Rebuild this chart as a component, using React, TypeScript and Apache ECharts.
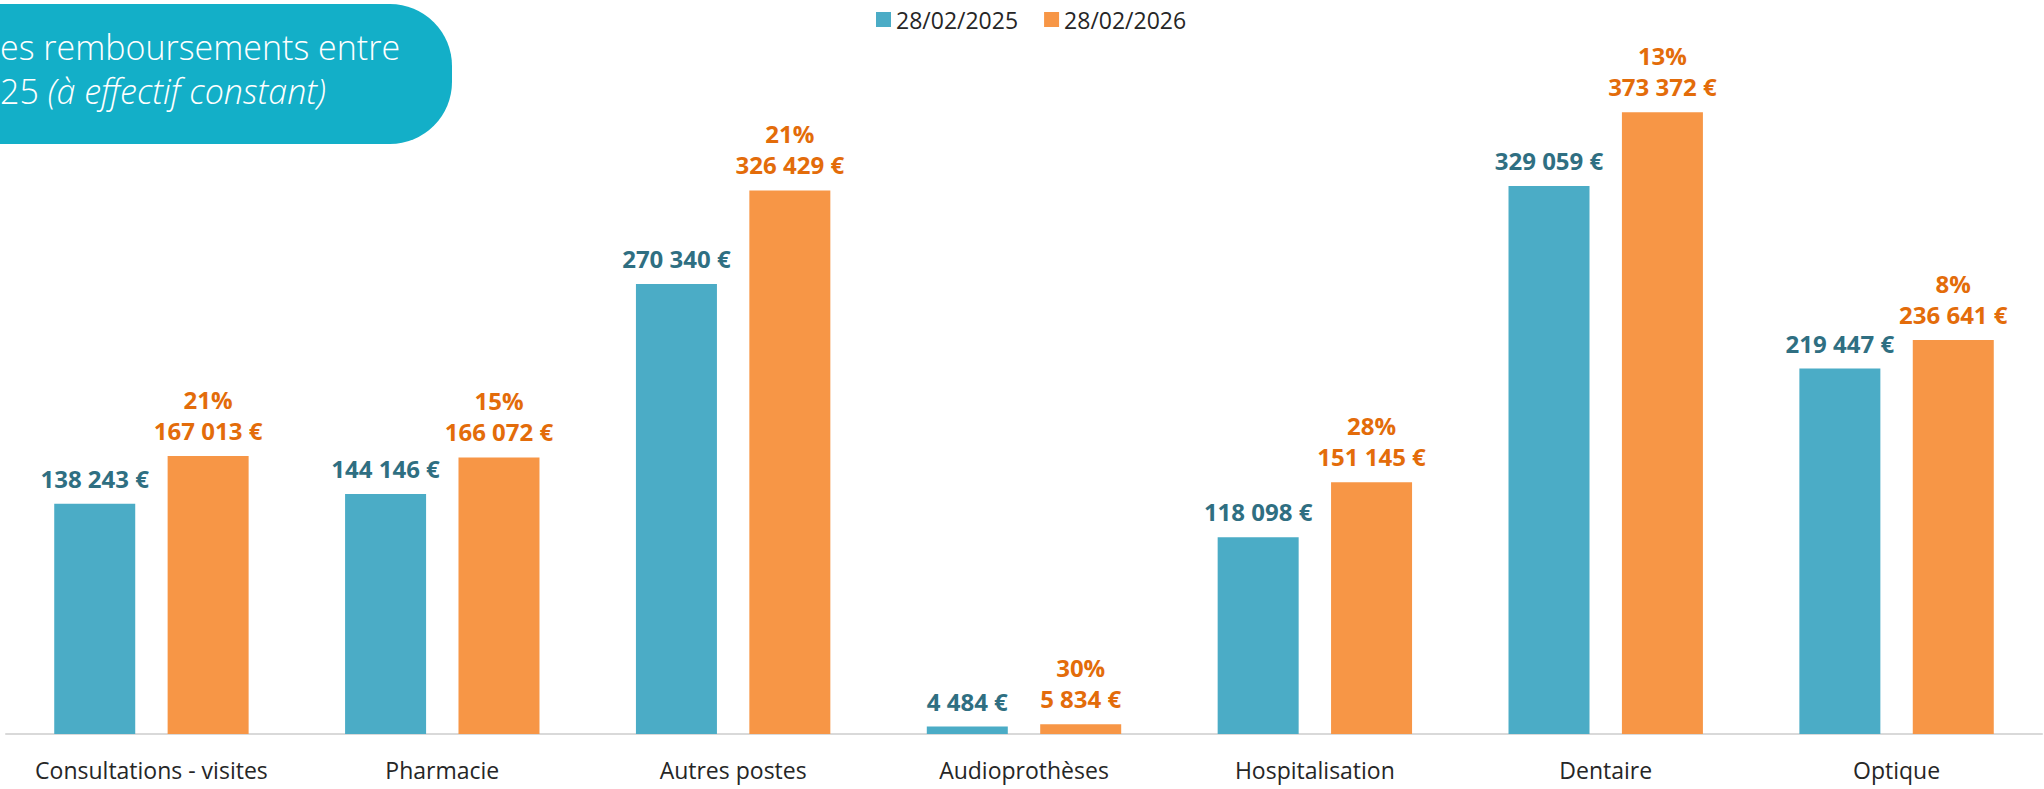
import React, { useEffect, useRef } from "react";
import * as echarts from "echarts";

const categories = [
  "Consultations - visites",
  "Pharmacie",
  "Autres postes",
  "Audioprothèses",
  "Hospitalisation",
  "Dentaire",
  "Optique",
];
const values2025 = [138243, 144146, 270340, 4484, 118098, 329059, 219447];
const values2026 = [167013, 166072, 326429, 5834, 151145, 373372, 236641];
const growth = ["21%", "15%", "21%", "30%", "28%", "13%", "8%"];
const seriesNames = ["28/02/2025", "28/02/2026"];
const titleLine1 = "es remboursements entre";
const titleLine2a = "25 ";
const titleLine2b = "(à effectif constant)";

const fmt = (n: number) =>
  String(n).replace(/\B(?=(\d{3})+(?!\d))/g, " ") + " €";

const FONT = "'Open Sans', 'Noto Sans', sans-serif";

export default function App() {
  const ref = useRef<HTMLDivElement>(null);
  useEffect(() => {
    if (!ref.current) return;
    const chart = echarts.init(ref.current, null, { renderer: "svg" });
    chart.setOption({
      animation: false,
      backgroundColor: "#ffffff",
      textStyle: { fontFamily: FONT },
      legend: {
        data: seriesNames,
        left: 871,
        top: 3,
        itemWidth: 15,
        itemHeight: 15,
        itemGap: 26,
        icon: "rect",
        textStyle: { fontSize: 23, color: "#262626", fontFamily: FONT },
      },
      grid: { left: 6, right: 2, top: 68, bottom: 55, containLabel: false },
      xAxis: {
        type: "category",
        data: categories,
        axisLine: { show: true, lineStyle: { color: "#D9D9D9", width: 2 } },
        axisTick: { show: false },
        axisLabel: {
          margin: 24,
          fontSize: 23,
          color: "#262626",
          fontFamily: FONT,
          interval: 0,
        },
      },
      yAxis: {
        type: "value",
        min: 0,
        max: 400000,
        show: false,
        splitLine: { show: false },
      },
      series: [
        {
          name: seriesNames[0],
          type: "bar",
          data: values2025,
          barWidth: 81,
          barGap: "40%",
          itemStyle: { color: "#4BACC6" },
          label: {
            show: true,
            position: "top",
            distance: 10,
            formatter: (p: any) => fmt(p.value),
            color: "#2F6F82",
            fontWeight: "bold",
            fontSize: 24,
            lineHeight: 31,
            fontFamily: FONT,
          },
        },
        {
          name: seriesNames[1],
          type: "bar",
          data: values2026,
          barWidth: 81,
          barGap: "40%",
          itemStyle: { color: "#F79646" },
          label: {
            show: true,
            position: "top",
            distance: 10,
            formatter: (p: any) => growth[p.dataIndex] + "\n" + fmt(p.value),
            color: "#E36C0A",
            fontWeight: "bold",
            fontSize: 24,
            lineHeight: 31,
            fontFamily: FONT,
          },
        },
      ],
      graphic: [
        {
          type: "rect",
          shape: { x: -30, y: 4, width: 482, height: 140, r: [0, 62, 62, 0] },
          style: { fill: "#13AFC8" },
          z: 10,
        },
        {
          type: "text",
          x: 0,
          y: 47,
          z: 11,
          style: {
            text: titleLine1,
            fill: "#ffffff",
            fontSize: 34,
            fontWeight: 300,
            fontFamily: FONT,
            verticalAlign: "middle",
            align: "left",
          },
        },
        {
          type: "text",
          x: 0,
          y: 91,
          z: 11,
          style: {
            text: "{n|" + titleLine2a + "}{i|" + titleLine2b + "}",
            fill: "#ffffff",
            verticalAlign: "middle",
            align: "left",
            rich: {
              n: {
                fill: "#ffffff",
                fontSize: 34,
                fontWeight: 300,
                fontFamily: FONT,
              },
              i: {
                fill: "#ffffff",
                fontSize: 34,
                fontWeight: 300,
                fontStyle: "italic",
                fontFamily: FONT,
              },
            },
          },
        },
      ],
    });
    return () => chart.dispose();
  }, []);
  return (
    <div
      ref={ref}
      style={{ position: "absolute", left: 0, top: 0, width: 2044, height: 789 }}
    />
  );
}
